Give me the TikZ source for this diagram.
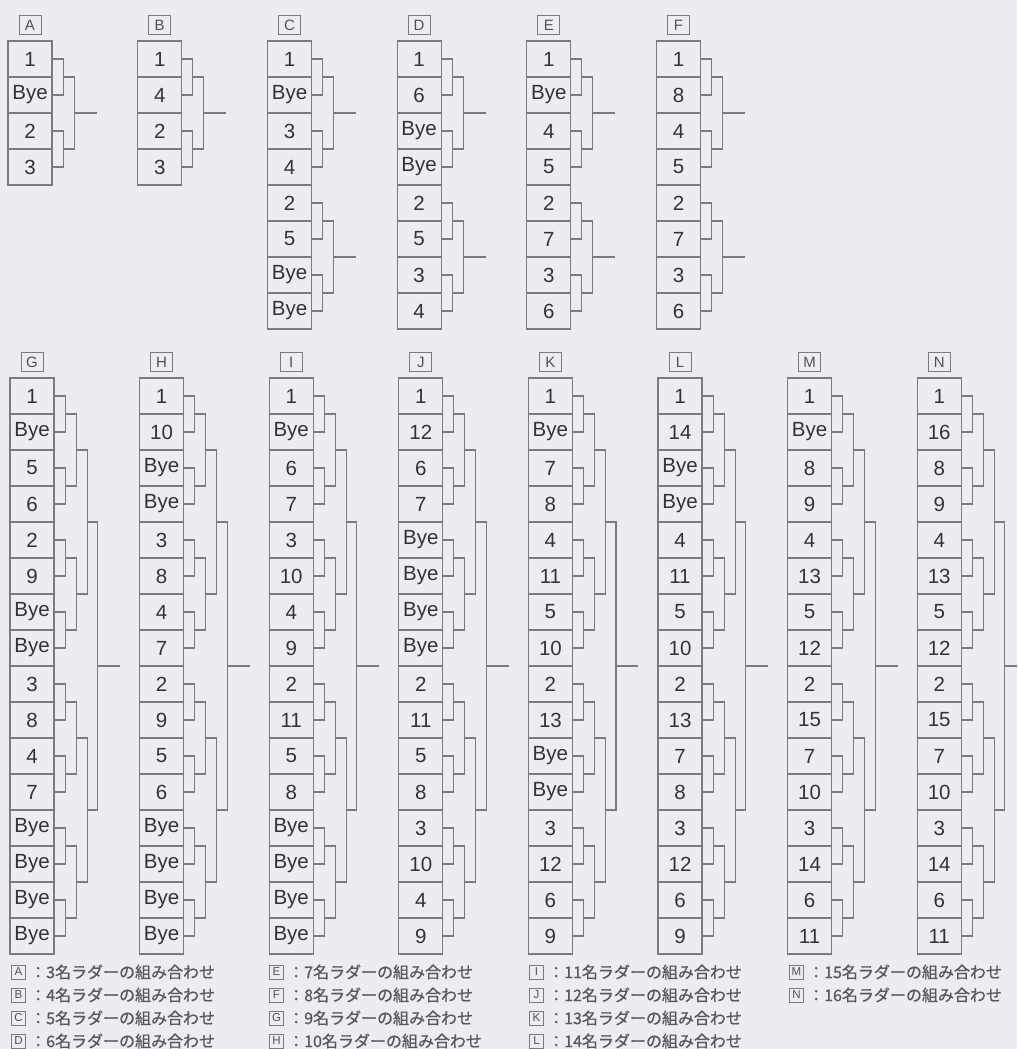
\documentclass[tikz,border=0pt]{standalone}
\usepackage{fontspec}
\setmainfont{Liberation Sans}
\newfontfamily\jpfont[FakeBold=0.8]{Noto Sans CJK JP}
\usetikzlibrary{calc}
\definecolor{bg}{RGB}{236,237,242}
\definecolor{ln}{RGB}{122,122,128}
\definecolor{tx}{RGB}{50,50,56}
\definecolor{captx}{RGB}{88,88,94}
\tikzset{
  cell/.style={draw=ln, line width=1.1pt, minimum width=44pt, minimum height=36pt, inner sep=0pt, text=tx, font=\fontsize{20.5pt}{20pt}\selectfont},
  lab/.style={draw=ln, line width=1pt, minimum width=22pt, minimum height=19pt, inner sep=0pt, text=tx!85, font=\fontsize{15pt}{15pt}\selectfont},
  caplab/.style={draw=ln, line width=0.9pt, minimum width=13.5pt, minimum height=14pt, inner sep=0pt, text=tx!85, font=\fontsize{11.5pt}{11pt}\selectfont},
  captext/.style={inner sep=0pt, text=captx, font=\jpfont\fontsize{16pt}{16pt}\selectfont},
  brk/.style={draw=ln, line width=1.1pt}
}
% a column of cells with its letter label
\newcommand\ladcol[4]{%
  \foreach \cellv [count=\ci] in {#4}{
    \node[cell] (#1-\ci) at ({#2+22},{#3+36*\ci-18}) {\cellv};
  }
  \node[lab] (#1-lab) at ({#2+22},{#3-16}) {#1};
}
% first bracket level: #1 name, #2 first row, #3 number of pairs
\newcommand\lvlone[3]{%
  \foreach \j in {1,...,#3}{
    \pgfmathtruncatemacro\myra{#2+2*\j-2}
    \pgfmathtruncatemacro\myrb{#2+2*\j-1}
    \draw[brk] (#1-\myra.east) -- ++(10.5,0) |- (#1-\myrb.east);
    \coordinate (#1-#2-1-\j) at ($(#1-\myra.east)!.5!(#1-\myrb.east)+(10.5,0)$);
  }
}
% higher level: #1 name, #2 group, #3 previous level, #4 pairs, #5 dx
\newcommand\lvlup[5]{%
  \pgfmathtruncatemacro\mynl{#3+1}
  \foreach \j in {1,...,#4}{
    \pgfmathtruncatemacro\myca{2*\j-1}
    \pgfmathtruncatemacro\mycb{2*\j}
    \draw[brk] (#1-#2-#3-\myca) -- ++(#5,0) |- (#1-#2-#3-\mycb);
    \coordinate (#1-#2-\mynl-\j) at ($(#1-#2-#3-\myca)!.5!(#1-#2-#3-\mycb)+(#5,0)$);
  }
}
\newcommand\brfour[2]{% name, first row
  \lvlone{#1}{#2}{2}
  \lvlup{#1}{#2}{1}{1}{11}
  \draw[brk] (#1-#2-2-1) -- ++(22.5,0) coordinate (#1-#2-out);
}
\newcommand\brsixteen[1]{%
  \lvlone{#1}{1}{8}
  \lvlup{#1}{1}{1}{4}{11}
  \lvlup{#1}{1}{2}{2}{11}
  \lvlup{#1}{1}{3}{1}{10.5}
  \draw[brk] (#1-1-4-1) -- ++(22.5,0) coordinate (#1-1-out);
}
\newcommand\capline[4]{%
  \node[caplab] (cap-#1) at ({#2+6.5},#3) {#1};
  \node[captext, anchor=west] (capt-#1) at ({#2+18},#3) {#4};
}
\begin{document}
\begin{tikzpicture}[x=1pt,y=-1pt]
\path[use as bounding box, fill=bg] (0,0) rectangle (1017,1049);
\clip (0,0) rectangle (1017,1049);
% top row
\ladcol{A}{8}{41}{1,Bye,2,3}
\ladcol{B}{137.7}{41}{1,4,2,3}
\ladcol{C}{267.6}{41}{1,Bye,3,4,2,5,Bye,Bye}
\ladcol{D}{397.1}{41}{1,6,Bye,Bye,2,5,3,4}
\ladcol{E}{526.8}{41}{1,Bye,4,5,2,7,3,6}
\ladcol{F}{656.5}{41}{1,8,4,5,2,7,3,6}
\brfour{A}{1}
\brfour{B}{1}
\foreach \nm in {C,D,E,F}{
  \brfour{\nm}{1}
  \brfour{\nm}{5}
}
% bottom row
\ladcol{G}{10}{378}{1,Bye,5,6,2,9,Bye,Bye,3,8,4,7,Bye,Bye,Bye,Bye}
\ladcol{H}{139.6}{378}{1,10,Bye,Bye,3,8,4,7,2,9,5,6,Bye,Bye,Bye,Bye}
\ladcol{I}{269.2}{378}{1,Bye,6,7,3,10,4,9,2,11,5,8,Bye,Bye,Bye,Bye}
\ladcol{J}{398.8}{378}{1,12,6,7,Bye,Bye,Bye,Bye,2,11,5,8,3,10,4,9}
\ladcol{K}{528.4}{378}{1,Bye,7,8,4,11,5,10,2,13,Bye,Bye,3,12,6,9}
\ladcol{L}{658}{378}{1,14,Bye,Bye,4,11,5,10,2,13,7,8,3,12,6,9}
\ladcol{M}{787.6}{378}{1,Bye,8,9,4,13,5,12,2,15,7,10,3,14,6,11}
\ladcol{N}{917.2}{378}{1,16,8,9,4,13,5,12,2,15,7,10,3,14,6,11}
\foreach \nm in {G,H,I,J,K,L,M,N}{
  \brsixteen{\nm}
}
% captions
\capline{A}{12}{972}{：3名ラダーの組み合わせ}
\capline{B}{12}{995}{：4名ラダーの組み合わせ}
\capline{C}{12}{1018}{：5名ラダーの組み合わせ}
\capline{D}{12}{1041}{：6名ラダーの組み合わせ}
\capline{E}{270}{972}{：7名ラダーの組み合わせ}
\capline{F}{270}{995}{：8名ラダーの組み合わせ}
\capline{G}{270}{1018}{：9名ラダーの組み合わせ}
\capline{H}{270}{1041}{：10名ラダーの組み合わせ}
\capline{I}{530}{972}{：11名ラダーの組み合わせ}
\capline{J}{530}{995}{：12名ラダーの組み合わせ}
\capline{K}{530}{1018}{：13名ラダーの組み合わせ}
\capline{L}{530}{1041}{：14名ラダーの組み合わせ}
\capline{M}{790}{972}{：15名ラダーの組み合わせ}
\capline{N}{790}{995}{：16名ラダーの組み合わせ}
\end{tikzpicture}
\end{document}
